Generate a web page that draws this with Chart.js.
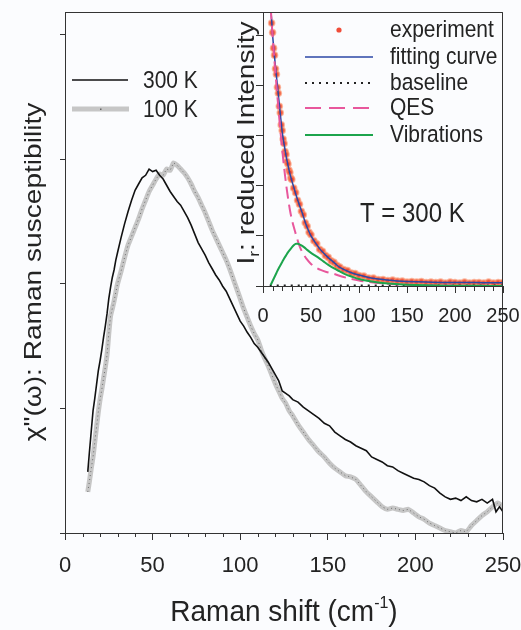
<!DOCTYPE html>
<html>
<head>
<meta charset="utf-8">
<script src="https://cdn.jsdelivr.net/npm/chart.js@4.4.1/dist/chart.umd.min.js"></script>
<style>
  html, body { margin: 0; padding: 0; background: #fbfcfe; }
  #wrap { position: relative; width: 521px; height: 630px; }
  #main { position: absolute; left: 0; top: 0; }
  #inset { position: absolute; left: 200px; top: 0; }
</style>
</head>
<body>
<div id="wrap">
  <canvas id="main" width="521" height="630"></canvas>
  <canvas id="inset" width="321" height="330"></canvas>
</div>
<script>
// ---- main panel: Raman susceptibility, two temperatures ----
const shift300 = [13, 14, 15, 16, 17, 18, 19, 20, 21, 22, 23, 24, 25, 26, 27, 28, 29, 30, 32, 34, 36, 38, 40, 42, 44, 46, 48, 50, 52, 54, 56, 58, 60, 62, 64, 66, 68, 70, 72, 74, 76, 78, 80, 82, 84, 86, 88, 90, 92, 94, 96, 98, 100, 102, 104, 106, 108, 110, 112, 114, 116, 118, 120, 122, 124, 126, 128, 130, 133, 136, 139, 142, 145, 148, 151, 154, 157, 160, 163, 166, 169, 172, 175, 178, 181, 184, 187, 190, 193, 196, 199, 202, 205, 208, 211, 214, 217, 220, 223, 226, 229, 232, 235, 238, 241, 244, 246, 248, 250];
const chi300 = [0.49, 0.66, 0.82, 0.98, 1.08, 1.19, 1.30, 1.38, 1.47, 1.57, 1.66, 1.76, 1.88, 1.97, 2.05, 2.11, 2.19, 2.25, 2.37, 2.48, 2.58, 2.67, 2.75, 2.80, 2.85, 2.87, 2.92, 2.90, 2.91, 2.87, 2.84, 2.79, 2.74, 2.70, 2.66, 2.63, 2.58, 2.53, 2.47, 2.40, 2.33, 2.28, 2.23, 2.17, 2.12, 2.07, 2.03, 1.98, 1.94, 1.88, 1.82, 1.76, 1.70, 1.66, 1.61, 1.57, 1.52, 1.49, 1.45, 1.41, 1.37, 1.32, 1.27, 1.22, 1.14, 1.12, 1.10, 1.07, 1.05, 1.01, 0.98, 0.95, 0.92, 0.88, 0.86, 0.81, 0.78, 0.75, 0.73, 0.70, 0.68, 0.66, 0.61, 0.59, 0.57, 0.54, 0.53, 0.50, 0.48, 0.46, 0.44, 0.43, 0.41, 0.38, 0.36, 0.32, 0.29, 0.27, 0.28, 0.26, 0.29, 0.26, 0.25, 0.27, 0.24, 0.27, 0.17, 0.21, 0.17];

const shift100 = [13, 14, 15, 16, 17, 18, 19, 20, 21, 22, 23, 24, 25, 26, 27, 28, 29, 30, 32, 34, 36, 38, 40, 42, 44, 46, 48, 50, 52, 54, 56, 58, 60, 62, 64, 66, 68, 70, 72, 74, 76, 78, 80, 82, 84, 86, 88, 90, 92, 94, 96, 98, 100, 102, 104, 106, 108, 110, 112, 114, 116, 118, 120, 122, 124, 126, 128, 130, 133, 136, 139, 142, 145, 148, 151, 154, 157, 160, 163, 166, 169, 172, 175, 178, 181, 184, 187, 190, 193, 196, 199, 202, 205, 208, 211, 214, 217, 220, 223, 226, 229, 232, 235, 238, 241, 244, 247, 250];
const chi100 = [0.33, 0.42, 0.52, 0.61, 0.73, 0.85, 0.97, 1.07, 1.15, 1.24, 1.33, 1.43, 1.60, 1.74, 1.80, 1.86, 1.93, 2.00, 2.10, 2.21, 2.31, 2.38, 2.45, 2.52, 2.60, 2.67, 2.74, 2.79, 2.84, 2.88, 2.87, 2.92, 2.91, 2.97, 2.95, 2.92, 2.89, 2.85, 2.80, 2.74, 2.69, 2.63, 2.57, 2.50, 2.43, 2.37, 2.31, 2.25, 2.19, 2.12, 2.04, 1.96, 1.88, 1.80, 1.73, 1.66, 1.60, 1.55, 1.47, 1.40, 1.34, 1.27, 1.20, 1.14, 1.08, 1.04, 0.98, 0.94, 0.87, 0.81, 0.75, 0.70, 0.65, 0.61, 0.56, 0.52, 0.49, 0.46, 0.45, 0.43, 0.38, 0.33, 0.29, 0.25, 0.21, 0.19, 0.20, 0.19, 0.18, 0.19, 0.16, 0.13, 0.11, 0.08, 0.06, 0.04, 0.02, 0.01, 0.00, 0.02, 0.01, 0.06, 0.10, 0.14, 0.17, 0.21, 0.24, 0.21];

const mainXTicks = [0, 50, 100, 150, 200, 250];
const mainYTicks = [0, 1, 2, 3, 4];
const mainLegend = ['300 K', '100 K'];

// ---- inset: reduced intensity at 300 K ----
const expShift = [8, 9, 10, 11, 12, 13, 14, 15, 16, 17, 18, 19, 20, 21, 22, 23, 24, 25, 26, 27, 28, 29, 30, 32, 34, 36, 38, 40, 42, 44, 46, 48, 50, 53, 56, 59, 62, 65, 68, 71, 74, 77, 80, 84, 88, 92, 96, 100, 105, 110, 115, 120, 125, 130, 135, 140, 145, 150, 155, 160, 165, 170, 175, 180, 185, 190, 195, 200, 205, 210, 215, 220, 225, 230, 235, 240, 245, 250];
const expInt = [5.60, 5.24, 5.05, 4.74, 4.60, 4.33, 4.22, 3.96, 3.84, 3.58, 3.45, 3.21, 3.10, 2.93, 2.84, 2.68, 2.62, 2.48, 2.43, 2.31, 2.26, 2.15, 2.12, 1.95, 1.86, 1.71, 1.63, 1.49, 1.42, 1.26, 1.19, 1.07, 1.02, 0.90, 0.84, 0.73, 0.69, 0.61, 0.57, 0.50, 0.47, 0.41, 0.38, 0.33, 0.31, 0.26, 0.25, 0.21, 0.20, 0.16, 0.16, 0.13, 0.13, 0.11, 0.12, 0.10, 0.10, 0.08, 0.09, 0.08, 0.09, 0.07, 0.08, 0.07, 0.08, 0.06, 0.08, 0.07, 0.06, 0.08, 0.06, 0.07, 0.07, 0.06, 0.08, 0.06, 0.07, 0.07];

const fitShift = [8, 9, 10, 11, 12, 13, 14, 15, 16, 17, 18, 19, 20, 22, 24, 26, 28, 30, 32, 35, 38, 41, 44, 47, 50, 55, 60, 65, 70, 75, 80, 90, 100, 110, 120, 130, 140, 150, 170, 190, 210, 230, 250];
const fitInt = [5.55, 5.30, 5.00, 4.78, 4.57, 4.37, 4.18, 4.00, 3.81, 3.62, 3.43, 3.25, 3.07, 2.82, 2.60, 2.41, 2.24, 2.10, 1.97, 1.78, 1.61, 1.45, 1.27, 1.12, 1.00, 0.85, 0.72, 0.62, 0.53, 0.45, 0.37, 0.28, 0.22, 0.17, 0.14, 0.12, 0.10, 0.09, 0.08, 0.07, 0.07, 0.065, 0.065];

const baseShift = [7, 250];
const baseInt = [0.01, 0.01];

const qesShift = [8, 10, 12, 14, 16, 18, 20, 22, 24, 26, 28, 30, 32, 35, 38, 41, 45, 50, 55, 60, 66, 74, 82, 90, 100, 110, 125, 140, 160, 190, 220, 250];
const qesInt = [5.55, 4.98, 4.47, 4.00, 3.55, 3.12, 2.72, 2.36, 2.04, 1.76, 1.52, 1.33, 1.18, 0.98, 0.80, 0.67, 0.55, 0.44, 0.37, 0.32, 0.28, 0.24, 0.19, 0.15, 0.11, 0.08, 0.05, 0.03, 0.02, 0.01, 0.005, 0];

const vibShift = [8, 10, 12, 14, 16, 18, 20, 22, 24, 26, 28, 30, 32, 34, 36, 38, 40, 43, 46, 50, 54, 58, 63, 68, 74, 80, 86, 92, 100, 110, 120, 130, 145, 160, 180, 200, 225, 250];
const vibInt = [0.02, 0.10, 0.18, 0.26, 0.34, 0.41, 0.48, 0.55, 0.61, 0.67, 0.72, 0.77, 0.81, 0.84, 0.84, 0.83, 0.81, 0.77, 0.72, 0.66, 0.61, 0.56, 0.49, 0.42, 0.35, 0.29, 0.23, 0.19, 0.14, 0.10, 0.07, 0.05, 0.03, 0.02, 0.01, 0.005, 0.003, 0.002];

const insetXTicks = [0, 50, 100, 150, 200, 250];
const insetYTicks = [0, 1, 2, 3, 4, 5];
const insetLegend = ['experiment', 'fitting curve', 'baseline', 'QES', 'Vibrations'];

// ---- styling ----
const FONT = '"Liberation Sans", Arial, Helvetica, sans-serif';
const INK = '#232323';
const AXIS = '#333';
const RED = 'rgba(238,58,36,0.9)';
const BLUE = '#2b47a6';
const PINK = '#e8579c';
const GREEN = '#1ca44c';
const GREY = '#c6c6c6';

Chart.defaults.font.family = FONT;
Chart.defaults.color = INK;

const pts = (xs, ys) => xs.map((x, i) => ({ x: x, y: ys[i] }));

function drawText(ctx, parts, x, y, opt) {
  const o = Object.assign({ rot: 0, sx: 1, sy: 1, align: 'left' }, opt);
  ctx.save();
  ctx.translate(x, y);
  ctx.rotate(o.rot);
  ctx.scale(o.sx, o.sy);
  ctx.fillStyle = INK;
  ctx.textBaseline = 'alphabetic';
  let total = 0;
  const widths = parts.map(p => {
    ctx.font = p[1] + 'px ' + FONT;
    const w = ctx.measureText(p[0]).width;
    total += w;
    return w;
  });
  let cx = o.align === 'center' ? -total / 2 : 0;
  parts.forEach((p, i) => {
    ctx.font = p[1] + 'px ' + FONT;
    ctx.fillText(p[0], cx, p[2] || 0);
    cx += widths[i];
  });
  ctx.restore();
}

function sample(ctx, x1, x2, y, color, width, dash) {
  ctx.save();
  ctx.strokeStyle = color;
  ctx.lineWidth = width;
  ctx.setLineDash(dash || []);
  ctx.beginPath();
  ctx.moveTo(x1, y);
  ctx.lineTo(x2, y);
  ctx.stroke();
  ctx.restore();
}

// top + right frame and minor ticks every 10 along x
function frameAndMinor(chart, minorLen) {
  const { ctx, chartArea: a, scales: { x } } = chart;
  ctx.save();
  ctx.strokeStyle = AXIS;
  ctx.lineWidth = 1;
  ctx.beginPath();
  ctx.moveTo(a.left, a.top + 0.5);
  ctx.lineTo(a.right - 0.5, a.top + 0.5);
  ctx.lineTo(a.right - 0.5, a.bottom);
  for (let v = x.min; v <= x.max; v += 10) {
    if (v % 50 === 0) continue;
    const px = Math.round(x.getPixelForValue(v)) + 0.5;
    ctx.moveTo(px, a.bottom);
    ctx.lineTo(px, a.bottom + minorLen);
  }
  ctx.stroke();
  ctx.restore();
}

const setTicks = arr => s => { s.ticks = arr.map(v => ({ value: v })); };
// fixed axis band; the last tick label may hang past the plot edge
const fixX = h => s => { s.height = h; s.paddingLeft = 0; s.paddingRight = 0; };

// ---- main chart ----
new Chart(document.getElementById('main'), {
  type: 'line',
  data: {
    datasets: [
      { label: mainLegend[0], data: pts(shift300, chi300), borderColor: '#111', borderWidth: 1.6,
        pointRadius: 0, tension: 0 },
      { label: mainLegend[1] + ' dots', data: pts(shift100, chi100), borderColor: '#6d6d6d', borderWidth: 1,
        borderDash: [1, 3], pointRadius: 0, tension: 0 },
      { label: mainLegend[1], data: pts(shift100, chi100), borderColor: GREY, borderWidth: 5,
        pointRadius: 0, tension: 0.2, borderJoinStyle: 'round' }
    ]
  },
  options: {
    responsive: false,
    animation: false,
    events: [],
    layout: { padding: { left: 0, right: 18, top: 12, bottom: 0 } },
    plugins: { legend: { display: false }, tooltip: { enabled: false } },
    scales: {
      x: {
        type: 'linear', min: 0, max: 250,
        afterBuildTicks: setTicks(mainXTicks),
        afterFit: fixX(97),
        ticks: { font: { size: 22 }, color: INK, padding: 13, maxRotation: 0, autoSkip: false },
        grid: { drawOnChartArea: false, tickLength: 7, color: AXIS },
        border: { color: AXIS, width: 1 }
      },
      y: {
        type: 'linear', min: 0, max: 4.18,
        afterBuildTicks: setTicks(mainYTicks),
        afterFit: s => { s.width = 65; },
        ticks: { display: false },
        grid: { drawOnChartArea: false, tickLength: 5, color: AXIS },
        border: { color: AXIS, width: 1 }
      }
    }
  },
  plugins: [{
    id: 'mainDecor',
    afterDraw(chart) {
      const ctx = chart.ctx;
      frameAndMinor(chart, 4);
      // legend
      sample(ctx, 72, 128, 80, '#111', 1.6);
      drawText(ctx, [[mainLegend[0], 21]], 143, 88, { sy: 1.15 });
      sample(ctx, 72, 129, 109, GREY, 5);
      ctx.fillStyle = '#666';
      ctx.fillRect(100, 108.5, 1.5, 1.5);
      drawText(ctx, [[mainLegend[1], 21]], 143, 117, { sy: 1.15 });
      // axis titles
      drawText(ctx, [['Raman shift (cm', 28], ['-1', 16, -12], [')', 28]], 284, 621,
        { align: 'center', sy: 1.08 });
      drawText(ctx, [['\u03c7"(\u03c9): Raman susceptibility', 24]], 41, 272,
        { rot: -Math.PI / 2, sx: 1.17, align: 'center' });
    }
  }]
});

// ---- inset chart ----
new Chart(document.getElementById('inset'), {
  type: 'line',
  data: {
    datasets: [
      { label: insetLegend[4], data: pts(vibShift, vibInt), borderColor: GREEN, borderWidth: 2,
        pointRadius: 0, tension: 0.3 },
      { label: insetLegend[3], data: pts(qesShift, qesInt), borderColor: PINK, borderWidth: 2,
        borderDash: [12, 6], pointRadius: 0, tension: 0.3 },
      { label: insetLegend[1], data: pts(fitShift, fitInt), borderColor: BLUE, borderWidth: 1.5,
        pointRadius: 0, tension: 0.3 },
      { label: insetLegend[2], data: pts(baseShift, baseInt), borderColor: '#222', borderWidth: 2,
        borderDash: [2, 5], pointRadius: 0 },
      { label: insetLegend[0], data: pts(expShift, expInt), showLine: false, pointRadius: 2.8,
        pointBackgroundColor: RED, pointBorderColor: 'rgba(250,140,100,0.6)', pointBorderWidth: 2 }
    ]
  },
  options: {
    responsive: false,
    animation: false,
    events: [],
    layout: { padding: { left: 0, right: 18, top: 12, bottom: 0 } },
    plugins: { legend: { display: false }, tooltip: { enabled: false } },
    scales: {
      x: {
        type: 'linear', min: 0, max: 250,
        afterBuildTicks: setTicks(insetXTicks),
        afterFit: fixX(44),
        ticks: { font: { size: 20 }, color: INK, padding: 11, maxRotation: 0, autoSkip: false },
        grid: { drawOnChartArea: false, tickLength: 7, color: AXIS },
        border: { color: AXIS, width: 1 }
      },
      y: {
        type: 'linear', min: 0, max: 5.46,
        afterBuildTicks: setTicks(insetYTicks),
        afterFit: s => { s.width = 63; },
        ticks: { display: false },
        grid: { drawOnChartArea: false, tickLength: 7, color: AXIS },
        border: { color: AXIS, width: 1 }
      }
    }
  },
  plugins: [{
    id: 'insetDecor',
    afterDraw(chart) {
      const ctx = chart.ctx;
      frameAndMinor(chart, 5);
      // legend
      ctx.save();
      ctx.fillStyle = RED;
      ctx.beginPath();
      ctx.arc(139, 30, 2.6, 0, Math.PI * 2);
      ctx.fill();
      ctx.restore();
      sample(ctx, 105, 173, 57, BLUE, 1.5);
      sample(ctx, 105, 173, 83, '#222', 2, [2, 5]);
      sample(ctx, 105, 173, 108, PINK, 2, [16, 8]);
      sample(ctx, 105, 173, 135, GREEN, 2);
      const rows = [37, 64, 90, 115, 142];
      insetLegend.forEach((t, i) => drawText(ctx, [[t, 21]], 190, rows[i], { sy: 1.12 }));
      drawText(ctx, [['T = 300 K', 24]], 160, 222, { sy: 1.15 });
      // y title with subscript r
      drawText(ctx, [['I', 24], ['r', 15, 5], [': reduced Intensity', 24]], 54, 143,
        { rot: -Math.PI / 2, sx: 1.17, align: 'center' });
    }
  }]
});
</script>
</body>
</html>
